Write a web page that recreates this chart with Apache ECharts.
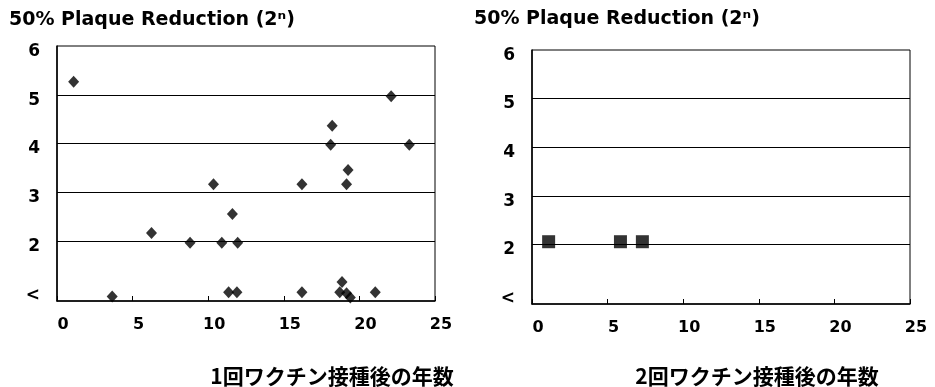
<!DOCTYPE html>
<html>
<head>
<meta charset="utf-8">
<script src="https://cdn.jsdelivr.net/npm/echarts@6/dist/echarts.min.js"></script>
<style>
  html, body { margin: 0; padding: 0; background: #fff; }
  #chart { width: 935px; height: 387px; }
</style>
</head>
<body>
<div id="chart"></div>
<script>
// years after vaccination (x) and 50% plaque reduction titre, log2 (y)
const firstDoseYears = [1.1, 22.1, 18.2, 18.1, 23.3, 19.25, 19.15, 16.2, 10.35, 11.6, 6.25, 8.8, 10.9, 11.95, 3.65, 11.35, 11.9, 16.2, 18.85, 18.7, 19.15, 19.4, 21.05];
const firstDoseTiters = [5.27, 4.97, 4.37, 3.98, 3.98, 3.46, 3.17, 3.17, 3.17, 2.56, 2.17, 1.97, 1.97, 1.97, 0.87, 0.96, 0.96, 0.96, 1.17, 0.96, 0.94, 0.85, 0.96];
const secondDoseYears = [1.1, 5.85, 7.3];
const secondDoseTiters = [2.06, 2.06, 2.06];

const yTickValues = [1, 2, 3, 4, 5, 6];
const yTickLabels = ['<', '2', '3', '4', '5', '6'];
const gridValues = [2, 3, 4, 5];
// labels in the scan sit a little under their grid line
const labelDrop = 0.11;

const panelTitle = '50% Plaque Reduction (2ⁿ)';
const xNames = ['1回ワクチン接種後の年数', '2回ワクチン接種後の年数'];

const font = '"DejaVu Sans", sans-serif';
const cjkFont = '"Noto Sans CJK JP", sans-serif';

const chart = echarts.init(document.getElementById('chart'), null, { renderer: 'canvas' });

function xAxisFor(gridIndex) {
  return {
    type: 'value', gridIndex, min: 0, max: 25, interval: 5,
    axisLine: { lineStyle: { color: '#000', width: 1.5 } },
    axisTick: { inside: true, length: 5, lineStyle: { color: '#000' } },
    splitLine: { show: false },
    axisLabel: { color: '#000', fontFamily: font, fontWeight: 'bold', fontSize: 16, margin: 16, padding: [0, 0, 0, 12] },
  };
}

function yAxisFor(gridIndex) {
  return {
    type: 'value', gridIndex, min: 0.78, max: 6,
    axisLine: { lineStyle: { color: '#000', width: 1.5 } },
    axisTick: { show: false },
    splitLine: { show: false },
    axisLabel: {
      customValues: yTickValues.map((v) => v - labelDrop),
      formatter: (v) => yTickLabels[yTickValues.indexOf(Math.round(v + labelDrop))],
      color: '#000', fontFamily: font, fontWeight: 'bold', fontSize: 17, margin: 17,
    },
  };
}

const gridLines = {
  silent: true,
  symbol: 'none',
  label: { show: false },
  lineStyle: { color: '#000', width: 1, type: 'solid' },
  data: gridValues.map((v) => ({ yAxis: v })),
};

chart.setOption({
  animation: false,
  backgroundColor: '#fff',
  grid: [
    { left: 57, top: 46, width: 378, height: 255, show: true, borderColor: '#000', borderWidth: 1 },
    { left: 532, top: 50, width: 378, height: 254, show: true, borderColor: '#000', borderWidth: 1 },
  ],
  xAxis: [xAxisFor(0), xAxisFor(1)],
  yAxis: [yAxisFor(0), yAxisFor(1)],
  graphic: [
    { type: 'text', left: 9, top: 11, style: { text: panelTitle, font: `bold 19px ${font}`, fill: '#000' } },
    { type: 'text', left: 474, top: 10, style: { text: panelTitle, font: `bold 19px ${font}`, fill: '#000' } },
    { type: 'text', x: 332, y: 376, style: { text: xNames[0], font: `bold 21px ${cjkFont}`, fill: '#000', align: 'center', verticalAlign: 'middle' } },
    { type: 'text', x: 757, y: 376, style: { text: xNames[1], font: `bold 21px ${cjkFont}`, fill: '#000', align: 'center', verticalAlign: 'middle' } },
  ],
  series: [
    {
      type: 'scatter', xAxisIndex: 0, yAxisIndex: 0,
      symbol: 'diamond', symbolSize: [11, 12],
      itemStyle: { color: '#000' },
      data: firstDoseYears.map((x, i) => [x, firstDoseTiters[i]]),
      markLine: gridLines,
      z: 3,
    },
    {
      type: 'scatter', xAxisIndex: 1, yAxisIndex: 1,
      symbol: 'rect', symbolSize: 13,
      itemStyle: { color: '#000' },
      data: secondDoseYears.map((x, i) => [x, secondDoseTiters[i]]),
      markLine: gridLines,
      z: 3,
    },
  ],
});
</script>
</body>
</html>
